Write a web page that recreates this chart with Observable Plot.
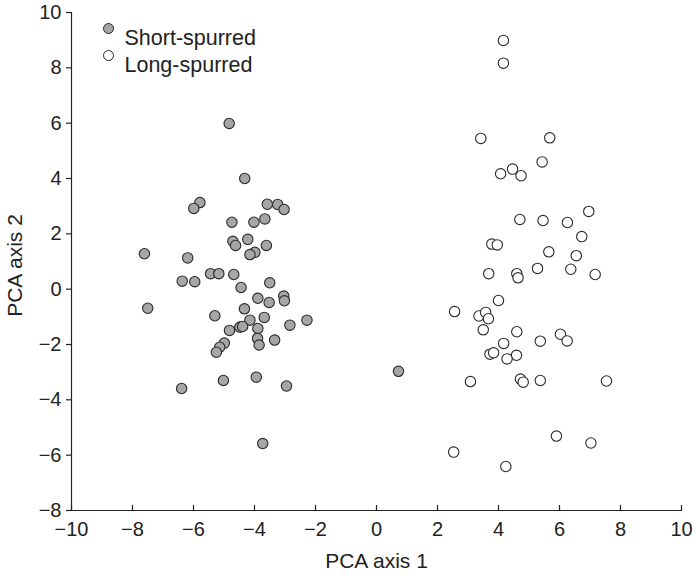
<!DOCTYPE html>
<html>
<head>
<meta charset="utf-8">
<script src="https://cdn.jsdelivr.net/npm/d3@7"></script>
<script src="https://cdn.jsdelivr.net/npm/@observablehq/plot@0.6"></script>
<style>
  html, body { margin: 0; padding: 0; background: white; }
  #chart { width: 694px; height: 580px; }
</style>
</head>
<body>
<div id="chart"></div>
<script>
const seriesNames = ["Short-spurred", "Long-spurred"];
const xTicks = [-10, -8, -6, -4, -2, 0, 2, 4, 6, 8, 10];
const yTicks = [-8, -6, -4, -2, 0, 2, 4, 6, 8, 10];
const xLabel = "PCA axis 1";
const yLabel = "PCA axis 2";

const shortX = [-4.83, -4.32, -5.79, -5.99, -3.58, -3.24, -3.03, -3.66, -4.74, -4.02,
  -4.71, -4.62, -4.22, -3.61, -3.99, -4.15, -7.61, -6.19, -5.44, -5.17,
  -4.68, -6.37, -5.96, -4.44, -3.50, -7.50, -3.89, -3.52, -3.04, -3.02,
  -5.30, -4.33, -3.68, -4.15, -2.84, -2.28, -4.82, -4.48, -4.39, -3.89,
  -3.90, -3.85, -3.34, -4.99, -5.14, -5.25, -5.02, -3.94, -2.95, -6.39,
  -3.73, 0.72];
const shortY = [5.99, 4.00, 3.13, 2.92, 3.07, 3.06, 2.88, 2.54, 2.42, 2.42,
  1.73, 1.58, 1.80, 1.58, 1.33, 1.25, 1.28, 1.13, 0.56, 0.56,
  0.53, 0.29, 0.27, 0.06, 0.23, -0.69, -0.33, -0.48, -0.25, -0.42,
  -0.96, -0.71, -1.02, -1.12, -1.30, -1.12, -1.49, -1.37, -1.35, -1.42,
  -1.78, -2.02, -1.84, -1.95, -2.10, -2.28, -3.30, -3.18, -3.50, -3.59,
  -5.58, -2.97];

const longX = [4.16, 4.16, 3.42, 5.68, 5.43, 4.46, 4.07, 4.74, 6.96, 4.70,
  5.46, 6.26, 6.73, 3.78, 3.96, 5.65, 6.55, 3.68, 4.60, 4.64,
  5.28, 6.37, 7.17, 4.00, 2.56, 3.36, 3.58, 3.67, 3.50, 4.60,
  6.03, 6.25, 5.37, 4.17, 3.72, 3.84, 4.59, 4.28, 3.08, 4.72,
  4.81, 5.37, 7.54, 5.90, 7.03, 2.53, 4.24];
const longY = [8.99, 8.17, 5.45, 5.47, 4.60, 4.34, 4.17, 4.10, 2.81, 2.52,
  2.48, 2.41, 1.90, 1.63, 1.60, 1.35, 1.21, 0.56, 0.56, 0.41,
  0.75, 0.72, 0.53, -0.41, -0.81, -0.97, -0.84, -1.07, -1.47, -1.54,
  -1.63, -1.87, -1.88, -1.96, -2.35, -2.30, -2.39, -2.52, -3.34, -3.25,
  -3.36, -3.30, -3.32, -5.31, -5.56, -5.89, -6.41];

const shortData = shortX.map((x, i) => ({x, y: shortY[i]}));
const longData = longX.map((x, i) => ({x, y: longY[i]}));

const fmt = d3.format("d");
const ink = "#222";
const greyFill = "#a6a6a6";
const dotStroke = "#2a2a2a";
const fs = 20;

const chart = Plot.plot({
  width: 694,
  height: 580,
  marginLeft: 71,
  marginRight: 13,
  marginTop: 12,
  marginBottom: 70,
  x: {domain: [-10, 10]},
  y: {domain: [-8, 10]},
  style: {
    fontFamily: "'Liberation Sans', Arial, Helvetica, sans-serif",
    fontSize: fs + "px",
    color: ink,
    background: "white",
    overflow: "visible"
  },
  marks: [
    Plot.frame({anchor: "bottom", stroke: ink, strokeWidth: 1.2}),
    Plot.frame({anchor: "left", stroke: ink, strokeWidth: 1.2}),
    Plot.axisX(xTicks, {tickSize: 5, dy: -5, tickFormat: () => "", stroke: ink, strokeWidth: 1.2, label: null}),
    Plot.axisX(xTicks, {tickSize: 0, tickPadding: 11, tickFormat: fmt, fill: ink, fontSize: fs, label: null}),
    Plot.axisY(yTicks, {tickSize: 5, tickPadding: 5, tickFormat: fmt, stroke: ink, fill: ink, strokeWidth: 1.2, fontSize: fs, label: null}),
    Plot.text([xLabel], {frameAnchor: "bottom", dy: 57, text: d => d, fill: ink, fontSize: 21, textAnchor: "middle"}),
    Plot.text([yLabel], {frameAnchor: "left", dx: -56, dy: 4, rotate: -90, text: d => d, fill: ink, fontSize: 21, textAnchor: "middle"}),
    Plot.dot(shortData, {x: "x", y: "y", r: 5.2, fill: greyFill, stroke: dotStroke, strokeWidth: 1.1}),
    Plot.dot(longData, {x: "x", y: "y", r: 5.2, fill: "white", stroke: dotStroke, strokeWidth: 1.1}),
    Plot.dot([seriesNames[0]], {frameAnchor: "top-left", dx: 37, dy: 16, r: 5, fill: greyFill, stroke: dotStroke, strokeWidth: 1}),
    Plot.dot([seriesNames[1]], {frameAnchor: "top-left", dx: 37, dy: 43, r: 5, fill: "white", stroke: dotStroke, strokeWidth: 1}),
    Plot.text([seriesNames[0]], {frameAnchor: "top-left", dx: 53, dy: 17, text: d => d, textAnchor: "start", fill: ink, fontSize: 21.5}),
    Plot.text([seriesNames[1]], {frameAnchor: "top-left", dx: 53, dy: 44, text: d => d, textAnchor: "start", fill: ink, fontSize: 21.5})
  ]
});
document.getElementById("chart").appendChild(chart);
</script>
</body>
</html>
